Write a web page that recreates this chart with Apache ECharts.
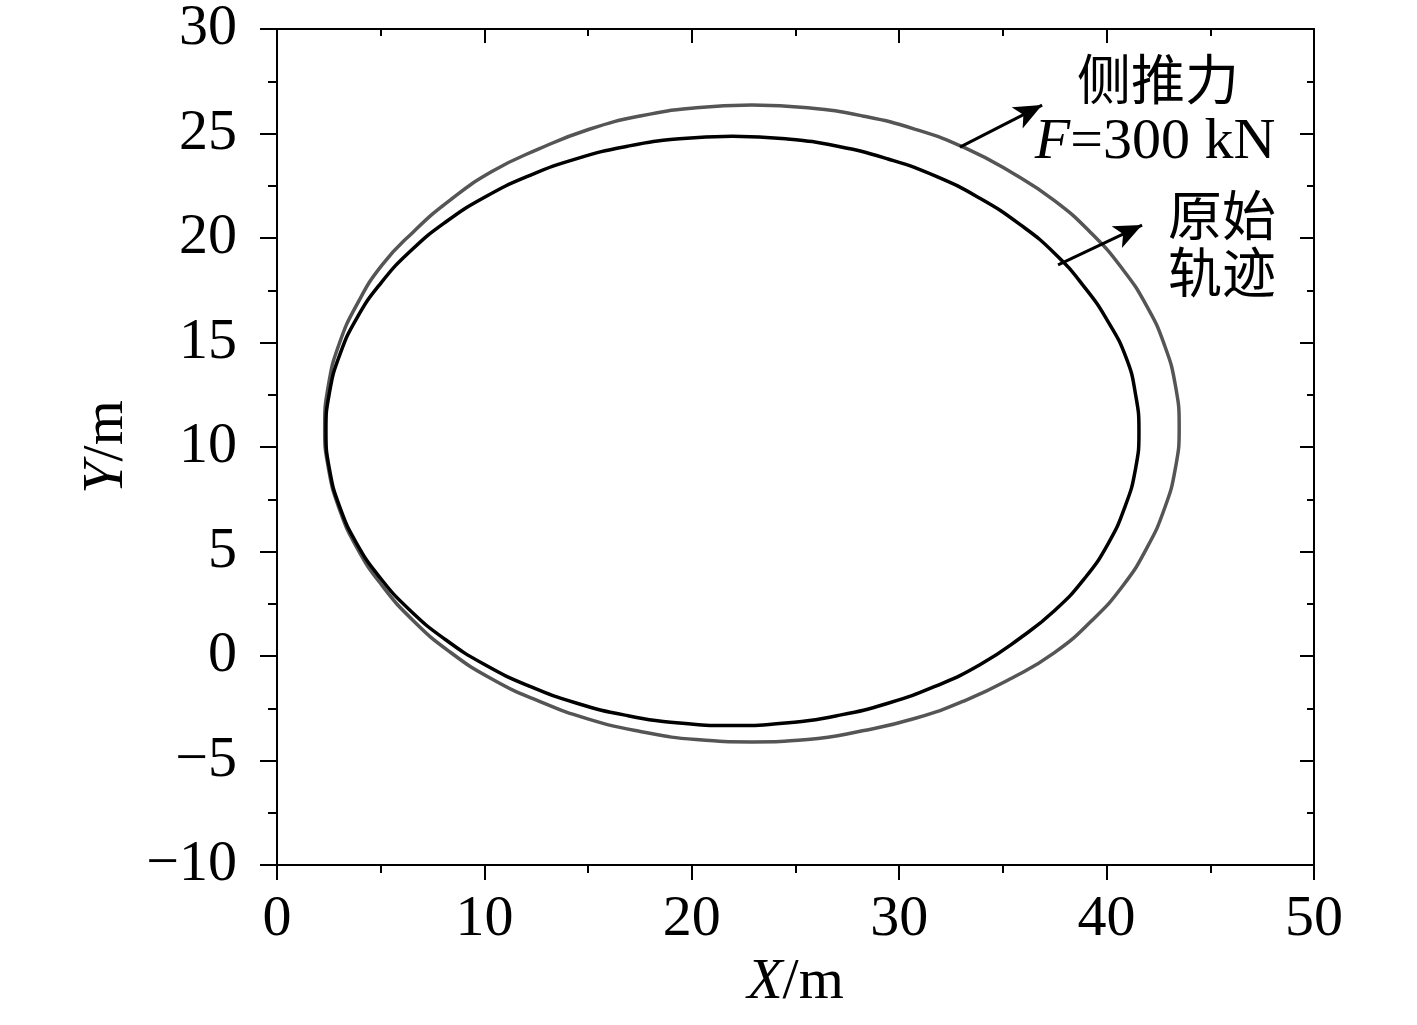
<!DOCTYPE html>
<html>
<head>
<meta charset="utf-8">
<script src="https://cdn.jsdelivr.net/npm/echarts@6/dist/echarts.min.js"></script>
<style>
  html, body { margin: 0; padding: 0; background: #fff; }
  #chart { width: 1417px; height: 1025px; }
</style>
</head>
<body>
<div id="chart"></div>
<script>
// original trajectory (black), starting at the top and going anticlockwise
const origX = [21.96, 19.40, 16.89, 14.46, 12.16, 10.03, 8.10, 6.41, 4.99, 3.85, 3.03, 2.53,
  2.36, 2.53, 3.03, 3.85, 4.99, 6.41, 8.10, 10.03, 12.16, 14.46, 16.89, 19.40,
  21.96, 24.52, 27.03, 29.46, 31.76, 33.89, 35.82, 37.51, 38.93, 40.07, 40.89, 41.39,
  41.56, 41.39, 40.95, 40.07, 38.93, 37.51, 35.82, 33.89, 31.76, 29.46, 27.03, 24.52, 21.96];
const origY = [24.87, 24.75, 24.39, 23.80, 22.98, 21.96, 20.74, 19.35, 17.82, 16.17, 14.42, 12.61,
  10.77, 8.93, 7.12, 5.37, 3.72, 2.19, 0.80, -0.42, -1.44, -2.26, -2.85, -3.21,
  -3.33, -3.21, -2.85, -2.26, -1.44, -0.42, 0.85, 2.19, 3.70, 5.37, 7.15, 8.93,
  10.77, 12.55, 14.25, 16.00, 17.65, 19.25, 20.65, 21.90, 22.96, 23.78, 24.39, 24.75, 24.87];

// trajectory with side thrust F = 300 kN (grey)
const thrustX = [22.9, 20.21, 17.57, 15.02, 12.6, 10.36, 8.33, 6.56, 5.06, 3.87, 3.0, 2.48,
  2.3, 2.48, 3.0, 3.87, 5.06, 6.56, 8.33, 10.36, 12.6, 15.02, 17.57, 20.21,
  22.9, 25.59, 28.23, 30.78, 33.2, 35.44, 37.47, 39.24, 40.74, 41.93, 42.8, 43.32,
  43.5, 43.32, 42.8, 41.93, 40.74, 39.24, 37.47, 35.44, 33.2, 30.78, 28.23, 25.59, 22.9];
const thrustY = [26.36, 26.23, 25.85, 25.19, 24.25, 23.18, 21.8, 20.28, 18.7, 16.85, 14.94, 12.96,
  10.9, 8.98, 7.05, 5.15, 3.38, 1.70, 0.2, -1.1, -2.15, -3.02, -3.62, -4.0,
  -4.11, -4.0, -3.58, -2.98, -2.12, -1.05, 0.15, 1.65, 3.3, 5.15, 7.08, 9.0,
  10.95, 12.93, 14.85, 16.75, 18.55, 20.25, 21.8, 23.12, 24.3, 25.2, 25.84, 26.23, 26.36];

// annotation arrows [start, end]
const arrowThrust = [[32.93, 24.35], [36.89, 26.36]];
const arrowOrig = [[37.66, 18.71], [41.71, 20.62]];

const FONT = "'Liberation Serif', 'Noto Sans CJK SC', serif";
const FS = 58;

const toPairs = (xs, ys) => xs.map((x, i) => [x, ys[i]]);
const minus = v => String(v).replace('-', '\u2212');

const axisLine = { show: true, onZero: false, lineStyle: { color: '#000', width: 2 } };

const chart = echarts.init(document.getElementById('chart'));

const option = {
  animation: false,
  backgroundColor: '#fff',
  grid: { left: 277, right: 103, top: 29, bottom: 160, containLabel: false },
  xAxis: [
    {
      type: 'value', position: 'bottom', min: 0, max: 50, interval: 10,
      axisLine: axisLine,
      axisTick: { show: true, inside: false, length: 15, lineStyle: { color: '#000', width: 2 } },
      minorTick: { show: true, splitNumber: 2, length: 8, lineStyle: { color: '#000', width: 2 } },
      splitLine: { show: false },
      axisLabel: { margin: 26, fontSize: FS, fontFamily: FONT, color: '#000', formatter: minus },
      name: '{i|X}/m',
      nameLocation: 'middle',
      nameGap: 85,
      nameTextStyle: {
        fontSize: FS, fontFamily: FONT, color: '#000',
        rich: { i: { fontSize: FS, fontFamily: FONT, fontStyle: 'italic', color: '#000' } }
      }
    },
    {
      type: 'value', position: 'top', min: 0, max: 50, interval: 10,
      axisLine: axisLine,
      axisTick: { show: true, inside: true, length: 14, lineStyle: { color: '#000', width: 2 } },
      minorTick: { show: true, splitNumber: 2, length: 7, lineStyle: { color: '#000', width: 2 } },
      splitLine: { show: false },
      axisLabel: { show: false }
    }
  ],
  yAxis: [
    {
      type: 'value', position: 'left', min: -10, max: 30, interval: 5,
      axisLine: axisLine,
      axisTick: { show: true, inside: false, length: 17, lineStyle: { color: '#000', width: 2 } },
      minorTick: { show: true, splitNumber: 2, length: 9, lineStyle: { color: '#000', width: 2 } },
      splitLine: { show: false },
      axisLabel: { margin: 40, fontSize: FS, fontFamily: FONT, color: '#000', formatter: minus },
      name: '{i|Y}/m',
      nameLocation: 'middle',
      nameGap: 140,
      nameRotate: 90,
      nameTextStyle: {
        fontSize: FS, fontFamily: FONT, color: '#000',
        rich: { i: { fontSize: FS, fontFamily: FONT, fontStyle: 'italic', color: '#000' } }
      }
    },
    {
      type: 'value', position: 'right', min: -10, max: 30, interval: 5,
      axisLine: axisLine,
      axisTick: { show: true, inside: true, length: 14, lineStyle: { color: '#000', width: 2 } },
      minorTick: { show: true, splitNumber: 2, length: 7, lineStyle: { color: '#000', width: 2 } },
      splitLine: { show: false },
      axisLabel: { show: false }
    }
  ],
  series: [
    {
      name: '侧推力',
      type: 'line',
      xAxisIndex: 0, yAxisIndex: 0,
      data: toPairs(thrustX, thrustY),
      showSymbol: false,
      smooth: 0.5,
      lineStyle: { color: '#555', width: 3.5 },
      markLine: {
        silent: true,
        symbol: ['none', 'arrow'],
        symbolSize: [18, 28],
        label: { show: false },
        lineStyle: { color: '#000', width: 3, type: 'solid' },
        data: [
          [{ coord: arrowThrust[0] }, { coord: arrowThrust[1] }],
          [{ coord: arrowOrig[0] }, { coord: arrowOrig[1] }]
        ]
      }
    },
    {
      name: '原始轨迹',
      type: 'line',
      xAxisIndex: 0, yAxisIndex: 0,
      data: toPairs(origX, origY),
      showSymbol: false,
      smooth: 0.5,
      lineStyle: { color: '#000', width: 3.5 }
    }
  ],
  graphic: [
    {
      type: 'text', x: 1158, y: 86,
      style: { text: '侧推力', fontSize: 54, fontFamily: FONT, fill: '#000', align: 'center', verticalAlign: 'middle' }
    },
    {
      type: 'text', x: 1155, y: 143,
      style: {
        text: '{i|F}=300 kN', fontSize: FS, fontFamily: FONT, fill: '#000', align: 'center', verticalAlign: 'middle',
        rich: { i: { fontSize: FS, fontFamily: FONT, fontStyle: 'italic', fill: '#000' } }
      }
    },
    {
      type: 'text', x: 1222, y: 222,
      style: { text: '原始', fontSize: 54, fontFamily: FONT, fill: '#000', align: 'center', verticalAlign: 'middle' }
    },
    {
      type: 'text', x: 1222, y: 279,
      style: { text: '轨迹', fontSize: 54, fontFamily: FONT, fill: '#000', align: 'center', verticalAlign: 'middle' }
    }
  ]
};

chart.setOption(option);
</script>
</body>
</html>
